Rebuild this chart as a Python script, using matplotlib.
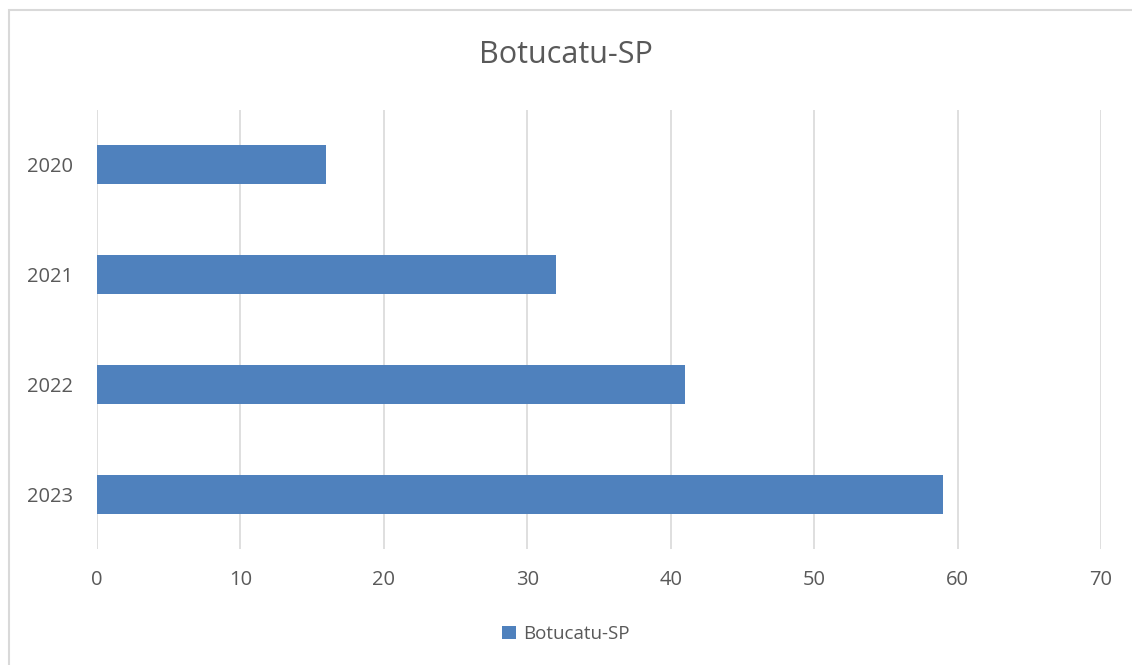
import matplotlib.pyplot as plt
from matplotlib.patches import Rectangle

anos = ['2020', '2021', '2022', '2023']
valores = [16, 32, 41, 59]
serie = 'Botucatu-SP'

plt.rcParams['font.family'] = ['Open Sans', 'DejaVu Sans']

fig = plt.figure(figsize=(11.32, 6.65), dpi=100)
ax = fig.add_axes([97 / 1132, 1 - 549 / 665, (1101 - 97) / 1132, (549 - 110) / 665])

# moldura cinza do grafico (cortada na direita e embaixo)
fig.patches.append(Rectangle((9 / 1132, -0.1), 1.2, 1.1 - 10 / 665, transform=fig.transFigure,
                             fill=False, edgecolor='#d9d9d9', linewidth=1.5))

pos = list(range(len(anos)))
ax.barh(pos, valores, height=0.355, color='#4f81bd', label=serie, zorder=3)
ax.set_yticks(pos)
ax.set_yticklabels(anos)
ax.set_ylim(3.5, -0.5)
ax.set_xlim(0, 70)
ax.set_xticks(range(0, 71, 10))
ax.grid(axis='x', color='#d9d9d9', linewidth=1.2, zorder=0)
for s in ax.spines.values():
    s.set_visible(False)
ax.tick_params(length=0, labelsize=14.5, labelcolor='#595959')
ax.tick_params(axis='x', pad=15)
ax.tick_params(axis='y', pad=17)

fig.text(0.5, 1 - 55 / 665, serie, ha='center', va='center', fontsize=22, color='#595959')
fig.legend(loc='center', bbox_to_anchor=(0.5, 1 - 634 / 665), frameon=False, fontsize=13.5,
           labelcolor='#595959', handlelength=0.7, handleheight=0.7, handletextpad=0.4)

fig.savefig('out.png', dpi=100)
